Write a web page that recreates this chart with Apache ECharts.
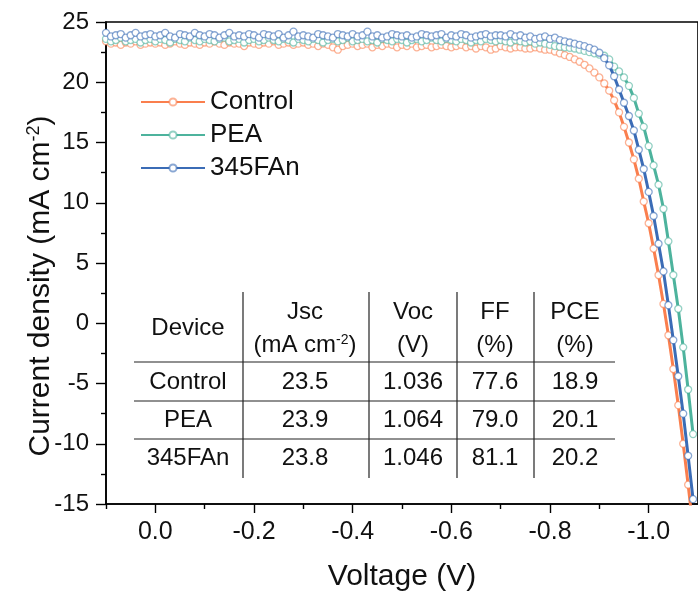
<!DOCTYPE html>
<html>
<head>
<meta charset="utf-8">
<script src="https://cdn.jsdelivr.net/npm/echarts@6/dist/echarts.min.js"></script>
<style>
  html, body { margin: 0; padding: 0; background: #fff; }
  #chart { width: 698px; height: 598px; }
</style>
</head>
<body>
<div id="chart"></div>
<script>
// Applied voltage sweep (V)
const voltage = [
  0.10, 0.09, 0.08, 0.07, 0.06, 0.05, 0.04, 0.03, 0.02, 0.01,
  0.00, -0.01, -0.02, -0.03, -0.04, -0.05, -0.06, -0.07, -0.08, -0.09,
  -0.10, -0.11, -0.12, -0.13, -0.14, -0.15, -0.16, -0.17, -0.18, -0.19,
  -0.20, -0.21, -0.22, -0.23, -0.24, -0.25, -0.26, -0.27, -0.28, -0.29,
  -0.30, -0.31, -0.32, -0.33, -0.34, -0.35, -0.36, -0.37, -0.38, -0.39,
  -0.40, -0.41, -0.42, -0.43, -0.44, -0.45, -0.46, -0.47, -0.48, -0.49,
  -0.50, -0.51, -0.52, -0.53, -0.54, -0.55, -0.56, -0.57, -0.58, -0.59,
  -0.60, -0.61, -0.62, -0.63, -0.64, -0.65, -0.66, -0.67, -0.68, -0.69,
  -0.70, -0.71, -0.72, -0.73, -0.74, -0.75, -0.76, -0.77, -0.78, -0.79,
  -0.80, -0.81, -0.82, -0.83, -0.84, -0.85, -0.86, -0.87, -0.88, -0.89,
  -0.90, -0.91, -0.92, -0.93, -0.94, -0.95, -0.96, -0.97, -0.98, -0.99,
  -1.00, -1.01, -1.02, -1.03, -1.04, -1.05, -1.06, -1.07, -1.08, -1.09
];

// Current density (mA cm-2) per device
const jControl = [
  23.4, 23.2, 23.3, 23.1, 23.3, 23.2, 23.4, 23.1, 23.2, 23.3,
  23.2, 23.3, 23.1, 23.2, 23.4, 23.2, 23.1, 23.3, 23.2, 23.1,
  23.3, 23.2, 23.4, 23.2, 23.1, 23.3, 23.2, 23.2, 23.0, 23.3,
  23.2, 23.1, 23.3, 23.2, 23.4, 23.1, 23.2, 23.3, 23.1, 23.2,
  23.3, 23.1, 23.2, 23.0, 23.2, 23.1, 22.9, 22.7, 23.0, 23.1,
  23.2, 23.0, 23.1, 23.2, 22.9, 23.1, 23.0, 23.2, 23.1, 22.9,
  23.1, 23.0, 23.2, 22.9, 23.0, 23.1, 22.9, 23.0, 23.1, 23.0,
  22.9, 23.0, 23.1, 22.9, 23.0, 22.8, 23.0, 22.9, 22.7, 22.8,
  23.0, 22.9, 22.8, 22.9, 22.9, 22.8, 22.8, 22.9, 22.8, 22.7,
  22.7, 22.55, 22.4, 22.25, 22.1, 21.9, 21.7, 21.45, 21.15, 20.8,
  20.4, 19.9, 19.3, 18.5, 17.5, 16.3, 15.0, 13.6, 12.0, 10.1,
  8.3, 6.2, 4.0, 1.6, -1.0, -3.8, -6.8, -10.0, -13.4, -17.0
];
const jPEA = [
  23.6, 23.4, 23.5, 23.7, 23.4, 23.5, 23.6, 23.3, 23.5, 23.6,
  23.4, 23.6, 23.5, 23.3, 23.6, 23.5, 23.4, 23.7, 23.5, 23.4,
  23.6, 23.5, 23.4, 23.6, 23.7, 23.4, 23.5, 23.6, 23.3, 23.5,
  23.6, 23.4, 23.5, 23.7, 23.5, 23.4, 23.6, 23.5, 23.3, 23.6,
  23.5, 23.4, 23.6, 23.5, 23.3, 23.5, 23.6, 23.4, 23.5, 23.7,
  23.4, 23.5, 23.6, 23.4, 23.5, 23.3, 23.6, 23.5, 23.4, 23.6,
  23.5, 23.3, 23.5, 23.6, 23.4, 23.5, 23.7, 23.5, 23.4, 23.6,
  23.5, 23.4, 23.6, 23.5, 23.3, 23.5, 23.4, 23.6, 23.5, 23.4,
  23.5, 23.4, 23.3, 23.5, 23.4, 23.3, 23.4, 23.2, 23.3, 23.2,
  23.1, 23.0, 22.95, 22.9, 22.85, 22.8, 22.7, 22.6, 22.5, 22.4,
  22.3, 22.2, 21.9, 21.3, 20.9, 20.4, 19.7, 18.7, 17.4, 16.3,
  14.7, 13.1, 11.5, 9.5, 6.8, 4.0, 1.2, -2.0, -5.5, -9.2
];
const j345FAn = [
  24.1, 23.8, 23.9, 24.0, 23.7, 23.9, 24.1, 23.8, 23.9, 24.0,
  23.8, 23.9, 24.1, 23.8, 23.7, 24.0, 23.9, 23.8, 24.1, 23.9,
  23.8, 24.0, 23.9, 23.7, 23.9, 24.1, 23.8, 23.9, 23.8, 24.0,
  23.9, 23.7, 24.0, 23.9, 23.8, 24.0, 23.7, 23.9, 24.2, 23.8,
  23.9, 23.8, 23.7, 24.0, 23.9, 23.8, 23.7, 24.0, 23.9, 23.8,
  24.0, 23.8, 23.9, 24.2, 23.8, 23.9, 23.7, 23.8, 24.0, 23.9,
  23.8, 23.9, 23.7, 23.8, 24.0, 23.9, 23.8, 23.9, 24.0, 23.7,
  23.9, 23.8, 24.0, 23.9, 23.7, 23.8, 23.9, 24.0, 23.8, 23.9,
  23.9, 23.8, 24.0, 23.8, 23.9, 23.7, 23.8, 23.6, 23.7, 23.8,
  23.6, 23.7, 23.5, 23.4, 23.3, 23.2, 23.1, 23.0, 22.85, 22.7,
  22.45, 22.0, 21.4, 20.5, 19.4, 18.3, 17.2, 16.0, 14.4, 12.8,
  10.9, 8.9, 6.6, 4.3, 1.5, -1.4, -4.4, -7.5, -11.0, -14.6
];

const deviceNames = ['Control', 'PEA', '345FAn'];
const deviceColors = ['#FA7F4E', '#4DB39D', '#3B6CB6'];
const deviceMarkerBorders = ['rgba(250,127,78,0.6)', 'rgba(77,179,157,0.6)', 'rgba(59,108,182,0.6)'];
const deviceCurves = [jControl, jPEA, j345FAn];

// Photovoltaic parameter table
const tableHeadTop = ['Device', 'Jsc', 'Voc', 'FF', 'PCE'];
const tableHeadUnits = ['', '{t|(mA cm}{sup|-2}{t|)}', '(V)', '(%)', '(%)'];
const tableJsc = ['23.5', '23.9', '23.8'];
const tableVoc = ['1.036', '1.064', '1.046'];
const tableFF = ['77.6', '79.0', '81.1'];
const tablePCE = ['18.9', '20.1', '20.2'];

// Axis ticks
const xMajorTicks = [0.0, -0.2, -0.4, -0.6, -0.8, -1.0];
const xMinorTicks = [0.1, -0.1, -0.3, -0.5, -0.7, -0.9];

const FONT = '"Liberation Sans", Arial, Helvetica, sans-serif';

const chart = echarts.init(document.getElementById('chart'), null, { renderer: 'canvas' });

const series = deviceNames.map((name, i) => ({
  name: name,
  type: 'line',
  xAxisIndex: 0,
  yAxisIndex: 0,
  data: voltage.map((v, k) => [v, deviceCurves[i][k]]),
  symbol: 'circle',
  symbolSize: 7,
  showSymbol: true,
  lineStyle: { color: deviceColors[i], width: 3 },
  itemStyle: { color: '#ffffff', borderColor: deviceMarkerBorders[i], borderWidth: 1.3 },
  emphasis: { disabled: true },
  animation: false,
  z: 2 + i
}));

// Table geometry
const colX = [188, 305, 413, 495, 575];
const rowY = [382, 420, 458];
const gfx = [];
const lineStyle = { stroke: '#222', lineWidth: 1.2 };
[243, 369, 457, 534].forEach(x => gfx.push({
  type: 'line', shape: { x1: x, y1: 292, x2: x, y2: 478 }, style: lineStyle, silent: true
}));
[362, 401, 439].forEach(y => gfx.push({
  type: 'line', shape: { x1: 134, y1: y, x2: 615, y2: y }, style: lineStyle, silent: true
}));
const cellFont = '24px ' + FONT;
const richCell = {
  t: { font: cellFont, fill: '#111' },
  sup: { font: '14px ' + FONT, fill: '#111', verticalAlign: 'top', padding: [0, 0, 10, 0] }
};
function cell(text, x, y) {
  gfx.push({
    type: 'text', x: x, y: y, silent: true,
    style: { text: text, font: cellFont, fill: '#111', align: 'center', verticalAlign: 'middle', rich: richCell }
  });
}
cell(tableHeadTop[0], colX[0], 328);
for (let c = 1; c < 5; c++) {
  cell(tableHeadTop[c], colX[c], 312);
  cell(tableHeadUnits[c], colX[c], 345);
}
for (let r = 0; r < 3; r++) {
  cell(deviceNames[r], colX[0], rowY[r]);
  cell(tableJsc[r], colX[1], rowY[r]);
  cell(tableVoc[r], colX[2], rowY[r]);
  cell(tableFF[r], colX[3], rowY[r]);
  cell(tablePCE[r], colX[4], rowY[r]);
}
// Y axis title with superscript
gfx.push({
  type: 'text', x: 41, y: 286, rotation: Math.PI / 2, silent: true,
  style: {
    text: '{t|Current density (mA cm}{s|-2}{t|)}',
    align: 'center', verticalAlign: 'middle',
    rich: {
      t: { font: '30px ' + FONT, fill: '#111' },
      s: { font: '18px ' + FONT, fill: '#111', verticalAlign: 'top', padding: [0, 0, 14, 0] }
    }
  }
});

const option = {
  animation: false,
  backgroundColor: '#ffffff',
  grid: {
    left: 106, right: -9, top: 22, bottom: 94,
    show: true, borderColor: '#000', borderWidth: 1.6, backgroundColor: 'transparent',
    containLabel: false
  },
  legend: {
    left: 135, top: 82, orient: 'vertical',
    itemWidth: 64, itemHeight: 9, itemGap: 3,
    textStyle: { fontFamily: FONT, fontSize: 26, color: '#111', lineHeight: 30 },
    data: deviceNames
  },
  xAxis: [
    {
      type: 'value', inverse: true, min: -1.1, max: 0.1,
      position: 'bottom',
      axisLine: { show: true, onZero: false, lineStyle: { color: '#000', width: 1.6 } },
      axisTick: { show: true, length: 9, lineStyle: { color: '#000', width: 1.4 }, customValues: xMajorTicks },
      axisLabel: {
        show: true, margin: 16, fontFamily: FONT, fontSize: 25, color: '#111',
        customValues: xMajorTicks,
        formatter: v => (Math.abs(v) < 1e-9 ? 0 : v).toFixed(1)
      },
      splitLine: { show: false },
      name: 'Voltage (V)', nameLocation: 'middle', nameGap: 58,
      nameTextStyle: { fontFamily: FONT, fontSize: 30, color: '#111' }
    },
    {
      type: 'value', inverse: true, min: -1.1, max: 0.1,
      position: 'bottom',
      axisLine: { show: false, onZero: false },
      axisTick: { show: true, length: 5, lineStyle: { color: '#000', width: 1.4 }, customValues: xMinorTicks },
      axisLabel: { show: false },
      splitLine: { show: false }
    }
  ],
  yAxis: {
    type: 'value', min: -15, max: 25, interval: 5,
    axisLine: { show: true, onZero: false, lineStyle: { color: '#000', width: 1.6 } },
    axisTick: { show: true, length: 10, lineStyle: { color: '#000', width: 1.4 } },
    minorTick: { show: true, splitNumber: 2, length: 5, lineStyle: { color: '#000', width: 1.4 } },
    axisLabel: { margin: 17, fontFamily: FONT, fontSize: 24, color: '#111' },
    splitLine: { show: false },
    minorSplitLine: { show: false }
  },
  series: series,
  graphic: gfx
};

chart.setOption(option);
</script>
</body>
</html>
